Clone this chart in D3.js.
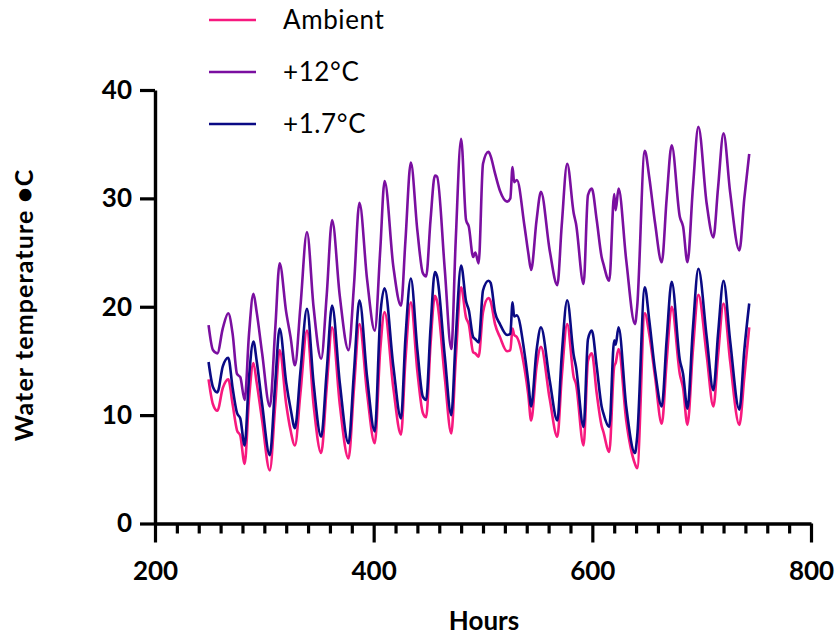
<!DOCTYPE html>
<html>
<head>
<meta charset="utf-8">
<script src="https://cdn.jsdelivr.net/npm/d3@7"></script>
<style>
  html, body { margin: 0; padding: 0; background: #fff; }
  svg { display: block; }
</style>
</head>
<body>
<svg id="chart" width="836" height="636"></svg>
<script>
// Sampling times (hours) shared by the three temperature records
const hours = [
  249, 253, 257, 262, 267, 271, 275, 278, 282, 286, 290, 293, 298, 305, 310, 314, 320, 324, 328,
  333, 339, 345, 352, 357, 362, 369, 377, 382, 387, 394, 401, 406, 410, 418, 425, 429, 434, 440,
  445, 448, 452, 456, 458, 465, 471, 475, 480, 484.5, 487, 491, 493, 496, 500, 505, 507, 511,
  515.5, 522, 525, 527, 528.5, 531, 538, 541.5, 544, 549, 553, 561, 568, 572, 577, 583, 585, 592,
  596, 599.5, 604, 608.5, 610, 615.5, 620, 621.3, 624, 631, 639, 641, 648, 652, 657.4, 663.5, 668,
  672.6, 680, 683, 687, 692, 697, 704.6, 710.7, 715, 720, 726, 734.5, 739, 743.5
];

// Water temperature (°C) for each treatment
const ambient = [
  13.3, 11.0, 10.4, 12.5, 13.3, 11.0, 8.6, 8.1, 5.5, 11.5, 14.8, 13.0, 9.5, 4.9, 11.0, 16.0, 11.0, 8.6, 7.2,
  12.0, 17.8, 11.0, 6.5, 12.5, 18.1, 11.0, 6.0, 12.5, 18.4, 12.0, 7.4, 16.0, 19.5, 12.5, 8.2, 15.0, 20.4, 14.0,
  10.2, 9.8, 16.5, 21.0, 20.5, 13.5, 8.3, 15.0, 21.8, 19.0, 18.4, 15.8, 15.7, 15.4, 19.5, 20.8, 20.5, 18.4,
  17.2, 15.9, 16.0, 18.0, 17.4, 17.2, 14.3, 11.8, 9.5, 14.5, 16.3, 11.5, 8.0, 13.5, 18.4, 13.5, 12.9, 7.2,
  15.0, 15.7, 12.0, 9.0, 8.5, 6.6, 14.5, 14.8, 16.1, 9.5, 5.5, 5.1, 19.4, 17.5, 13.5, 9.2, 15.0,
  20.0, 13.8, 12.5, 9.1, 16.0, 21.1, 15.5, 10.8, 15.5, 20.3, 15.0, 9.1, 13.5, 18.1
];
const plus12 = [
  18.3, 16.0, 15.7, 18.0, 19.4, 17.5, 13.8, 13.5, 11.4, 17.5, 21.2, 19.5, 15.7, 10.8, 18.0, 24.0, 19.5, 17.2, 14.6,
  20.0, 26.9, 20.0, 15.2, 21.0, 28.0, 21.0, 16.0, 22.0, 29.6, 22.5, 17.8, 25.2, 31.6, 23.7, 20.1, 26.0, 33.3, 27.0,
  23.1, 22.8, 28.0, 32.1, 32.0, 23.5, 16.1, 26.0, 35.5, 28.0, 27.4, 24.6, 25.0, 24.0, 33.2, 34.3, 33.9, 32.3,
  30.7, 29.7, 30.0, 32.9, 31.5, 31.7, 27.4, 24.9, 23.4, 28.0, 30.6, 25.2, 22.0, 27.5, 33.2, 28.6, 27.7, 22.1,
  30.3, 30.9, 28.0, 24.6, 24.0, 22.4, 30.4, 28.9, 30.9, 24.3, 18.4, 20.0, 34.4, 32.0, 27.7, 24.1, 30.0,
  34.9, 28.3, 27.4, 24.1, 31.0, 36.6, 29.5, 26.4, 31.0, 36.0, 30.6, 25.2, 30.0, 34.1
];
const plus17 = [
  14.9, 12.6, 12.1, 14.5, 15.3, 12.5, 10.2, 9.7, 7.2, 13.5, 16.8, 15.0, 11.0, 6.3, 13.0, 18.0, 13.0, 10.6, 8.8,
  14.0, 19.8, 13.0, 8.0, 14.0, 20.1, 13.0, 7.4, 14.0, 20.6, 13.5, 8.5, 19.1, 21.7, 14.5, 9.7, 17.0, 22.6, 16.0,
  11.7, 11.4, 18.0, 23.2, 22.8, 15.5, 10.0, 17.0, 23.8, 20.5, 19.7, 17.2, 17.0, 16.7, 21.5, 22.4, 22.2, 19.5,
  18.4, 17.4, 17.5, 20.4, 19.1, 19.2, 15.7, 13.0, 10.8, 16.0, 18.1, 13.2, 9.5, 15.5, 20.6, 15.5, 14.5, 8.9,
  17.0, 17.8, 14.5, 10.8, 10.2, 8.9, 16.9, 16.5, 18.1, 10.8, 6.5, 8.0, 21.8, 18.8, 14.1, 10.8, 17.0,
  22.3, 15.1, 13.8, 10.6, 18.0, 23.5, 17.2, 12.3, 17.5, 22.4, 16.9, 10.5, 16.0, 20.3
];

const seriesNames = ["Ambient", "+12°C", "+1.7°C"];
const seriesColors = ["#f7197f", "#7a0fa0", "#0a0a84"];
const xMajorTicks = [200, 400, 600, 800];
const xMinorTicks = d3.range(200, 801, 20);
const yTicks = [0, 10, 20, 30, 40];

const series = [
  { name: seriesNames[0], color: seriesColors[0], values: ambient },
  { name: seriesNames[1], color: seriesColors[1], values: plus12 },
  { name: seriesNames[2], color: seriesColors[2], values: plus17 }
];

const svg = d3.select("#chart");
const FONT = "Lato, 'Open Sans', sans-serif";

const x = d3.scaleLinear().domain([200, 800]).range([155, 811]);
const y = d3.scaleLinear().domain([0, 40]).range([523.5, 90]);

// Data lines (ambient underneath, then the warmed treatments)
const line = d3.line()
  .curve(d3.curveMonotoneX)
  .x(d => x(d[0]))
  .y(d => y(d[1]));

const drawOrder = [series[0], series[2], series[1]];
svg.append("g")
  .selectAll("path")
  .data(drawOrder)
  .join("path")
  .attr("d", s => line(hours.map((h, i) => [h, s.values[i]])))
  .attr("fill", "none")
  .attr("stroke", s => s.color)
  .attr("stroke-width", 2.6)
  .attr("stroke-linejoin", "round");

// X axis: minor ticks every 20 h, labelled major ticks every 200 h
const xMinor = svg.append("g")
  .attr("transform", "translate(0,523.5)")
  .call(d3.axisBottom(x).tickValues(xMinorTicks.filter(v => v % 200 !== 0))
    .tickSize(10).tickSizeOuter(0).tickFormat(""));
xMinor.select(".domain").remove();

const xAxis = svg.append("g")
  .attr("transform", "translate(0,523.5)")
  .call(d3.axisBottom(x).tickValues(xMajorTicks).tickSize(19).tickSizeOuter(0).tickPadding(19));

// Y axis
const yAxis = svg.append("g")
  .attr("transform", "translate(155,0)")
  .call(d3.axisLeft(y).tickValues(yTicks).tickSize(15).tickSizeOuter(0).tickPadding(8));

[xMinor, xAxis, yAxis].forEach(g => {
  g.selectAll("line").attr("stroke", "#000").attr("stroke-width", 3.2);
  g.selectAll(".domain").attr("stroke", "#000").attr("stroke-width", 3.4);
  g.selectAll("text")
    .attr("fill", "#000")
    .style("font-family", FONT)
    .style("font-weight", "bold")
    .style("font-size", "26px");
});

// Axis titles
svg.append("text")
  .attr("x", 484)
  .attr("y", 630)
  .attr("text-anchor", "middle")
  .style("font-family", FONT)
  .style("font-weight", "bold")
  .style("font-size", "26px")
  .text("Hours");

svg.append("text")
  .attr("transform", "translate(33,305) rotate(-90)")
  .attr("text-anchor", "middle")
  .style("font-family", FONT)
  .style("font-weight", "bold")
  .style("font-size", "25px")
  .style("letter-spacing", "1.1px")
  .text("Water temperature ●C");

// Legend
const legend = svg.append("g")
  .selectAll("g")
  .data(series)
  .join("g")
  .attr("transform", (d, i) => `translate(0,${20 + i * 52})`);

legend.append("line")
  .attr("x1", 209).attr("x2", 256)
  .attr("y1", 0).attr("y2", 0)
  .attr("stroke", d => d.color)
  .attr("stroke-width", 2.6);

legend.append("text")
  .attr("x", 283)
  .attr("y", 9)
  .style("font-family", FONT)
  .style("font-size", "26px")
  .style("letter-spacing", "0.6px")
  .attr("fill", "#000")
  .text(d => d.name);
</script>
</body>
</html>
